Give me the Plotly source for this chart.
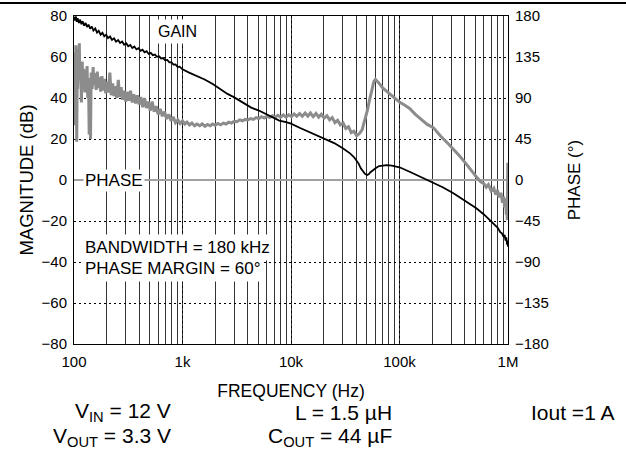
import plotly.graph_objects as go

# ---------------- data ----------------
gain_freq = [100, 102, 104, 106, 108, 111, 114, 117, 120, 124, 128, 132, 136, 141, 146, 151, 157, 163, 169,
             176, 183, 190, 198, 206, 215, 224, 234, 244, 255, 266, 278, 290, 303, 316, 330, 345, 360, 376,
             393, 410, 428, 447, 467, 488, 510, 533, 557, 582, 608, 635, 663, 693, 724, 756, 790, 825, 862,
             900, 940, 1000, 1150, 1340, 1600, 1900, 2300, 2600, 3000, 3600, 4300, 5000, 5500, 6500, 7800,
             9000, 10000, 12000, 14000, 17000, 21000, 25000, 30000, 35000, 38000, 40000, 42000, 44000, 46000,
             48000, 50400, 52000, 54000, 57000, 61000, 65000, 70000, 76000, 85000, 100000, 124000, 150000,
             180000, 205000, 250000, 314000, 400000, 511000, 600000, 730000, 800000, 850000, 880000, 910000,
             930000, 950000, 965000, 980000, 990000, 1000000]
gain_db = [79.6, 77.8, 79.8, 77.2, 78.9, 76.6, 78.2, 76.0, 77.4, 75.3, 76.6, 74.6, 75.8, 73.8, 74.9, 72.9, 73.9,
           71.9, 72.8, 70.9, 71.8, 70.1, 70.9, 69.2, 70.0, 68.3, 69.1, 67.5, 68.3, 66.8, 67.5, 66.0, 66.7, 65.2,
           65.9, 64.4, 65.1, 63.7, 64.3, 63.0, 63.6, 62.3, 62.8, 61.5, 62.0, 60.9, 61.2, 60.1, 60.4, 59.3, 59.5,
           58.4, 58.6, 57.4, 57.5, 56.3, 56.4, 55.2, 55.3, 54.0, 52.4, 51.0, 49.0, 46.8, 43.8, 42.0, 40.3, 37.8,
           35.3, 34.0, 33.0, 31.0, 29.0, 28.2, 27.5, 25.5, 24.0, 22.0, 20.0, 18.0, 15.5, 13.0, 11.2, 9.8, 8.0,
           5.7, 4.0, 3.0, 2.4, 2.8, 3.8, 4.9, 6.0, 6.8, 7.2, 7.3, 7.0, 6.2, 4.0, 2.0, 0.0, -1.3, -3.5, -6.5,
           -10.0, -13.8, -16.8, -21.0, -23.2, -25.5, -26.0, -27.8, -26.8, -29.5, -28.0, -31.5, -29.5, -32.5]

phase_freq = [100, 101, 102, 103, 104, 105, 106, 107, 108, 110, 112, 113, 115, 117, 119, 121, 123, 126, 128, 130,
              132, 134, 136, 138, 140, 142, 144, 147, 150, 153, 156, 160, 164, 168, 172, 176, 181, 186, 191, 196,
              202, 208, 214, 220, 227, 234, 241, 248, 256, 264, 272, 281, 290, 300, 310, 320, 332, 344, 356, 370,
              384, 398, 413, 430, 447, 465, 484, 504, 525, 548, 572, 597, 624, 652, 682, 714, 748, 784, 822, 862,
              905, 950, 1000, 1050, 1100, 1160, 1220, 1290, 1360, 1440, 1520, 1610, 1700, 1800, 1900, 2000, 2120,
              2250, 2380, 2520, 2670, 2830, 3000, 3180, 3370, 3570, 3780, 4000, 4250, 4500, 4770, 5050, 5350,
              5670, 6000, 6360, 6740, 7140, 7570, 8020, 8500, 9000, 9540, 10100, 10700, 11300, 12000, 12700,
              13500, 14300, 15100, 16000, 17000, 18000, 19000, 20200, 21400, 22700, 24000, 25400, 26900, 28500,
              30200, 32000, 33900, 35900, 38000, 40300, 42700, 45200, 48000, 50500, 53000, 55500, 58000, 60000,
              62000, 65000, 70000, 75000, 81000, 90000, 100000, 112000, 124000, 140000, 160000, 180000, 205000,
              240000, 280000, 314000, 360000, 410000, 460000, 511000, 560000, 600000, 630000, 660000, 700000,
              740000, 770000, 800000, 830000, 860000, 890000, 910000, 930000, 950000, 965000, 975000, 985000,
              992000, 996000, 1000000]
phase_deg = [125, 60, 140, 95, 148, 70, 42, 120, 100, 135, 150, 110, 128, 85, 130, 104, 122, 96, 118, 105,
             125, 90, 112, 50, 106, 45, 118, 100, 124, 104, 117, 99, 119, 101, 113, 97, 114, 98, 111, 95,
             108, 96, 118, 93, 106, 92, 103, 90, 110, 91, 102, 88, 98, 86, 97, 87, 98, 85, 94, 84,
             93, 83, 91, 80, 90, 79, 86, 76, 86, 75, 81, 72, 78, 70, 75, 67, 72, 65, 69, 63,
             66, 62, 65, 61.5, 63.5, 60.5, 62.5, 59.5, 61.5, 59.5, 61.5, 59, 61, 59.5, 61.5, 60, 62,
             60.5, 62.5, 61.5, 63.5, 62.5, 64.5, 64, 66, 65, 66.5, 66, 67.5, 66.5, 68.5, 67.5, 69.5,
             68, 70, 68.5, 70.5, 69, 71, 69, 71.5, 69, 71.5, 69.5, 72.5, 70, 73, 70,
             73.5, 70, 73.5, 69.5, 73, 69, 72, 68, 70.5, 66, 68.5, 63, 65.5, 60.5,
             62.5, 56.5, 58.5, 52, 53.5, 48.5, 51, 55, 65, 76, 88, 100, 108, 110.5,
             109, 106, 101, 98, 95, 90, 85.5, 82, 78.5, 72, 66, 61, 57.5,
             48, 40, 34, 26, 18, 10, 3.5, -2, -4, -8, -5, -12,
             -9, -16, -11, -19, -14, -25, -18, -30, -20, -38, -25, -44,
             -10, 19, -30]

x_tickvals = [100, 1000, 10000, 100000, 1000000]
x_ticktext = ["100", "1k", "10k", "100k", "1M"]
mag_ticks = [-80, -60, -40, -20, 0, 20, 40, 60, 80]
phase_ticks = [-180, -135, -90, -45, 0, 45, 90, 135, 180]

FONT = "Liberation Sans, Arial, sans-serif"
DOT = "2px,3px"

fig = go.Figure()
fig.add_trace(go.Scatter(x=phase_freq, y=phase_deg, yaxis="y", mode="lines",
                         line=dict(color="#8c8c8c", width=3), hoverinfo="skip"))
fig.add_trace(go.Scatter(x=gain_freq, y=gain_db, yaxis="y2", mode="lines",
                         line=dict(color="black", width=1.8), hoverinfo="skip"))

fig.update_layout(
    width=626, height=466,
    margin=dict(l=74, r=118, t=16, b=122, autoexpand=False),
    paper_bgcolor="white", plot_bgcolor="white",
    showlegend=False,
    font=dict(family=FONT, color="black", size=15),
    xaxis=dict(type="log", range=[2, 6], tickmode="array", tickvals=x_tickvals, ticktext=x_ticktext,
               showgrid=True, gridcolor="black", griddash=DOT, gridwidth=1,
               minor=dict(dtick="D1", showgrid=True, gridcolor="#333333", gridwidth=1, griddash="solid"),
               showline=True, linecolor="black", linewidth=1, mirror=True, ticks="",
               tickfont=dict(size=15), ticklabelstandoff=4, automargin=False,
               title=dict(text="FREQUENCY (Hz)", font=dict(size=17.5), standoff=15)),
    yaxis=dict(side="right", range=[-180, 180], tickmode="array", tickvals=phase_ticks,
               showgrid=False, zeroline=False, showline=False, ticks="",
               tickfont=dict(size=15), ticklabelstandoff=6, automargin=False,
               title=dict(text="PHASE (°)", font=dict(size=17), standoff=20)),
    yaxis2=dict(overlaying="y", side="left", range=[-80, 80], tickmode="array", tickvals=mag_ticks,
                showgrid=True, gridcolor="black", griddash=DOT, gridwidth=1,
                zeroline=True, zerolinecolor="#a0a0a0", zerolinewidth=1.6,
                showline=True, linecolor="black", linewidth=1, mirror=True, ticks="",
                tickfont=dict(size=15), ticklabelstandoff=3, automargin=False,
                title=dict(text="MAGNITUDE (dB)", font=dict(size=18.5), standoff=3)),
)

def px_x(p):
    return (p - 74) / 434.0

def px_y(p):
    return (344 - p) / 328.0

anns = [
    dict(text="GAIN", x=px_x(177), y=px_y(31), font=dict(size=16), bgcolor="white", borderpad=3),
    dict(text="PHASE", x=px_x(114), y=px_y(180), font=dict(size=17), bgcolor="white", borderpad=1),
    dict(text="BANDWIDTH = 180 kHz", x=px_x(81), y=px_y(247), xanchor="left",
         font=dict(size=17), bgcolor="white", borderpad=3),
    dict(text="PHASE MARGIN = 60°", x=px_x(81), y=px_y(268), xanchor="left",
         font=dict(size=17), bgcolor="white", borderpad=3),
    dict(text="V<sub>IN</sub> = 12 V", x=px_x(173), y=px_y(412), xanchor="right", font=dict(size=21)),
    dict(text="V<sub>OUT</sub> = 3.3 V", x=px_x(173), y=px_y(437), xanchor="right", font=dict(size=21)),
    dict(text="L = 1.5 µH", x=px_x(394), y=px_y(412), xanchor="right", font=dict(size=21)),
    dict(text="C<sub>OUT</sub> = 44 µF", x=px_x(394), y=px_y(437), xanchor="right", font=dict(size=21)),
    dict(text="Iout =1 A", x=px_x(617), y=px_y(412), xanchor="right", font=dict(size=21)),
]
for a in anns:
    a.setdefault("xanchor", "center")
    fig.add_annotation(xref="paper", yref="paper", showarrow=False, yanchor="middle", **a)

# page separator rule across the top
fig.add_shape(type="line", xref="paper", yref="paper", layer="above",
              x0=px_x(0), x1=px_x(626), y0=px_y(3), y1=px_y(3),
              line=dict(color="black", width=2))

fig.write_html("out.html", config={"displayModeBar": False},
               post_script="document.body.style.margin='0px';document.body.style.overflow='hidden';")
